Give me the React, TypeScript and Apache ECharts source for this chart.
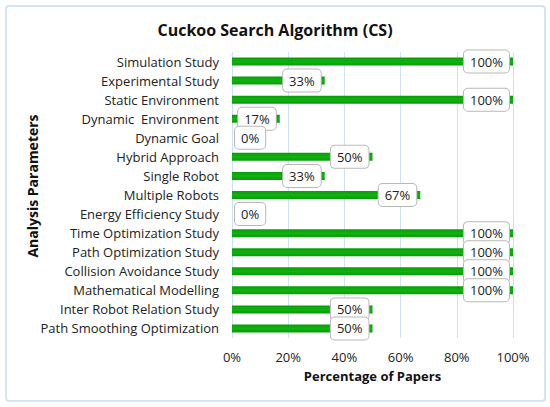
import React, { useEffect, useRef } from "react";
import * as echarts from "echarts";

const categories = [
  "Simulation Study",
  "Experimental Study",
  "Static Environment",
  "Dynamic  Environment",
  "Dynamic Goal",
  "Hybrid Approach",
  "Single Robot",
  "Multiple Robots",
  "Energy Efficiency Study",
  "Time Optimization Study",
  "Path Optimization Study",
  "Collision Avoidance Study",
  "Mathematical Modelling",
  "Inter Robot Relation Study",
  "Path Smoothing Optimization",
];
const values = [100, 33, 100, 17, 0, 50, 33, 67, 0, 100, 100, 100, 100, 50, 50];
const xTicks = [0, 20, 40, 60, 80, 100];
const yAxisTitle = "Analysis Parameters";

const FONT = "'Open Sans', 'Noto Sans', sans-serif";

export default function App() {
  const ref = useRef<HTMLDivElement>(null);
  useEffect(() => {
    document.body.style.margin = "0";
    const chart = echarts.init(ref.current!, null, { renderer: "svg" });
    const labelBase = {
      show: true,
      formatter: "{c}%",
      backgroundColor: "#ffffff",
      borderColor: "#b8b8b8",
      borderWidth: 1,
      borderRadius: 4,
      padding: [5, 6, 4, 6],
      color: "#222",
      fontFamily: FONT,
      fontSize: 13,
    };
    chart.setOption({
      animation: false,
      textStyle: { fontFamily: FONT },
      title: {
        text: "Cuckoo Search Algorithm (CS)",
        left: "center",
        top: 17,
        textStyle: { fontFamily: FONT, fontSize: 16, fontWeight: "bold", color: "#111" },
      },
      graphic: [
        {
          type: "rect",
          shape: { x: 6, y: 6, width: 539, height: 395, r: 3 },
          style: { fill: "none", stroke: "#d3e4f5", lineWidth: 2 },
          silent: true,
        },
        {
          type: "text",
          x: 32,
          y: 186,
          rotation: Math.PI / 2,
          style: {
            text: yAxisTitle,
            fontFamily: FONT,
            fontSize: 14,
            fontWeight: "bold",
            fill: "#111",
            align: "center",
            verticalAlign: "middle",
          },
          silent: true,
        },
      ],
      grid: { left: 232, right: 37, top: 52, bottom: 69 },
      xAxis: {
        type: "value",
        min: xTicks[0],
        max: xTicks[xTicks.length - 1],
        interval: 20,
        name: "Percentage of Papers",
        nameLocation: "middle",
        nameGap: 31,
        nameTextStyle: { fontFamily: FONT, fontSize: 13, fontWeight: "bold", color: "#111" },
        axisLine: { show: false },
        axisTick: { show: false },
        axisLabel: { formatter: "{value}%", color: "#222", fontSize: 13, margin: 12, fontFamily: FONT },
        splitLine: { show: true, lineStyle: { color: "#cfe2f4", width: 1 } },
      },
      yAxis: {
        type: "category",
        data: categories,
        inverse: true,
        axisLine: { show: false },
        axisTick: { show: false },
        axisLabel: { color: "#222", fontSize: 13, margin: 13, fontFamily: FONT },
      },
      series: [
        {
          type: "bar",
          barWidth: 8,
          data: values.map((v) =>
            v === 0
              ? { value: v, label: { ...labelBase, position: "right", distance: 3 } }
              : { value: v }
          ),
          itemStyle: {
            color: new echarts.graphic.LinearGradient(0, 0, 0, 1, [
              { offset: 0, color: "#079c07" },
              { offset: 0.5, color: "#10b210" },
              { offset: 1, color: "#079c07" },
            ]),
          },
          label: { ...labelBase, position: "insideRight", distance: 4 },
        },
      ],
    });
    return () => chart.dispose();
  }, []);
  return <div ref={ref} style={{ width: 550, height: 407 }} />;
}
